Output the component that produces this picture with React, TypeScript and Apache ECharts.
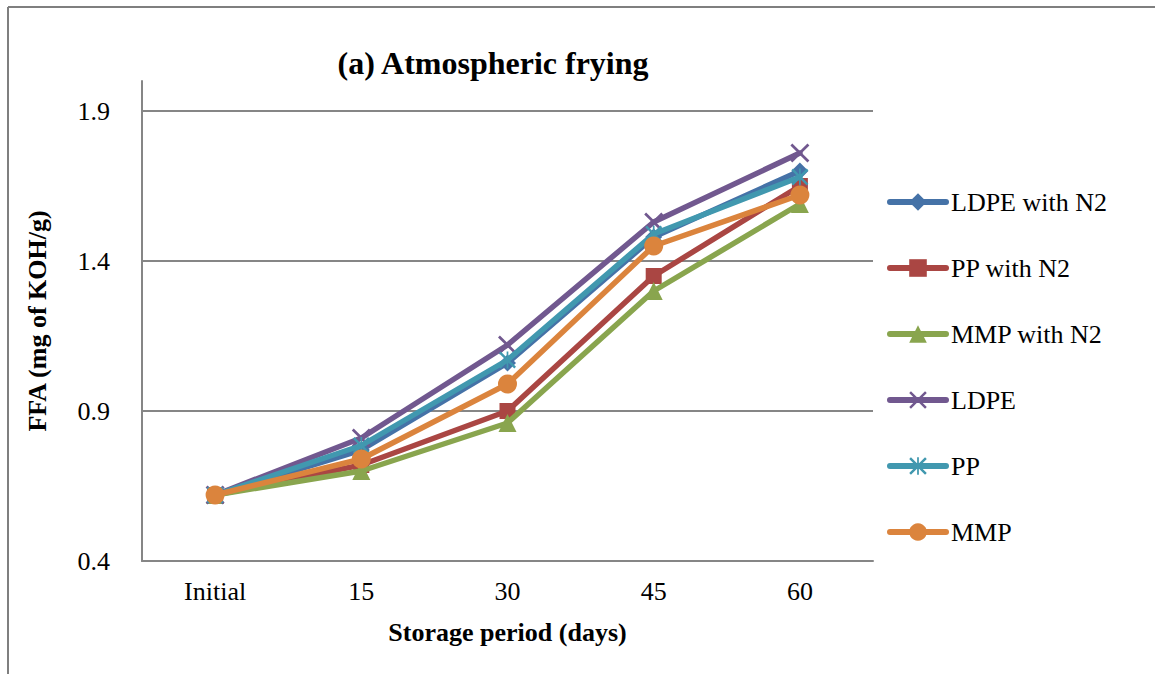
import React, { useEffect, useRef } from "react";
import * as echarts from "echarts";

// Storage period categories and FFA values (mg of KOH/g) per packaging type
const categories = ["Initial", "15", "30", "45", "60"];
const ldpeN2 = [0.62, 0.77, 1.06, 1.48, 1.7];
const ppN2 = [0.62, 0.72, 0.9, 1.35, 1.65];
const mmpN2 = [0.62, 0.7, 0.86, 1.3, 1.59];
const ldpe = [0.62, 0.81, 1.12, 1.53, 1.76];
const pp = [0.62, 0.785, 1.07, 1.49, 1.68];
const mmp = [0.62, 0.74, 0.99, 1.45, 1.62];

const seriesNames = ["LDPE with N2", "PP with N2", "MMP with N2", "LDPE", "PP", "MMP"];
const seriesData = [ldpeN2, ppN2, mmpN2, ldpe, pp, mmp];
const seriesColors = ["#4572A7", "#AA4643", "#89A54E", "#71588F", "#4198AF", "#DB843D"];

const crossPath =
  "path://M0,2 L2,0 L10,8 L18,0 L20,2 L12,10 L20,18 L18,20 L10,12 L2,20 L0,18 L8,10 Z";
const starPath =
  "path://M0,2 L2,0 L10,8 L18,0 L20,2 L12,10 L20,18 L18,20 L10,12 L2,20 L0,18 L8,10 Z M9,0 L11,0 L11,20 L9,20 Z";

const seriesSymbols = ["diamond", "rect", "triangle", crossPath, starPath, "circle"];
const seriesSymbolSizes = [17, 16, 18, 19, 17, 19];

const FONT = "Liberation Serif";
const GRID_GRAY = "#868686";

export default function App() {
  const ref = useRef<HTMLDivElement>(null);

  useEffect(() => {
    if (!ref.current) return;
    const chart = echarts.init(ref.current, undefined, { renderer: "svg" });

    chart.setOption({
      animation: false,
      backgroundColor: "#ffffff",
      textStyle: { fontFamily: FONT, color: "#000" },
      grid: { left: 142, right: 282, top: 81, bottom: 113 },
      graphic: [
        {
          type: "line",
          shape: { x1: 8, y1: 7, x2: 1155, y2: 7 },
          style: { stroke: "#7f7f7f", lineWidth: 2 },
        },
        {
          type: "line",
          shape: { x1: 8, y1: 7, x2: 8, y2: 674 },
          style: { stroke: "#7f7f7f", lineWidth: 2 },
        },
        {
          type: "text",
          x: 493,
          y: 63,
          style: {
            text: "(a) Atmospheric frying",
            fontFamily: FONT,
            fontSize: 32,
            fontWeight: "bold",
            fill: "#000",
            textAlign: "center",
            textVerticalAlign: "middle",
          },
        },
      ],
      legend: {
        orient: "vertical",
        left: 882,
        top: 184,
        itemWidth: 56,
        itemHeight: 22,
        itemGap: 40,
        itemTextGap: 3,
        lineStyle: { width: 6, cap: "round" },
        itemStyle: { borderWidth: 0 },
        textStyle: { fontFamily: FONT, fontSize: 26, color: "#000" },
        data: seriesNames,
      },
      xAxis: {
        type: "category",
        data: categories,
        boundaryGap: true,
        name: "Storage period (days)",
        nameLocation: "middle",
        nameGap: 58,
        nameTextStyle: { fontFamily: FONT, fontSize: 26, fontWeight: "bold", color: "#000" },
        axisLine: { lineStyle: { color: GRID_GRAY, width: 2 } },
        axisTick: { show: false },
        axisLabel: { fontFamily: FONT, fontSize: 26, color: "#000", margin: 17 },
      },
      yAxis: {
        type: "value",
        min: 0.4,
        max: 2.0,
        interval: 0.5,
        name: "FFA (mg of KOH/g)",
        nameLocation: "middle",
        nameGap: 92,
        nameTextStyle: { fontFamily: FONT, fontSize: 26, fontWeight: "bold", color: "#000" },
        axisLine: { show: true, lineStyle: { color: GRID_GRAY, width: 2 } },
        axisTick: { show: false },
        axisLabel: {
          fontFamily: FONT,
          fontSize: 26,
          color: "#000",
          margin: 32,
          showMaxLabel: false,
          formatter: (v: number) => v.toFixed(1),
        },
        splitLine: {
          show: true,
          lineStyle: {
            color: [GRID_GRAY, GRID_GRAY, GRID_GRAY, GRID_GRAY, "rgba(0,0,0,0)"],
            width: 2,
          },
        },
      },
      series: seriesNames.map((name, i) => ({
        name,
        type: "line",
        data: seriesData[i],
        symbol: seriesSymbols[i],
        symbolSize: seriesSymbolSizes[i],
        showAllSymbol: true,
        color: seriesColors[i],
        lineStyle: { width: 5.5, color: seriesColors[i], cap: "round", join: "round" },
        itemStyle: { color: seriesColors[i], borderWidth: 0 },
        z: 2 + i,
      })),
    });

    return () => chart.dispose();
  }, []);

  return (
    <div
      ref={ref}
      style={{ position: "absolute", left: 0, top: 0, width: 1155, height: 674 }}
    />
  );
}
